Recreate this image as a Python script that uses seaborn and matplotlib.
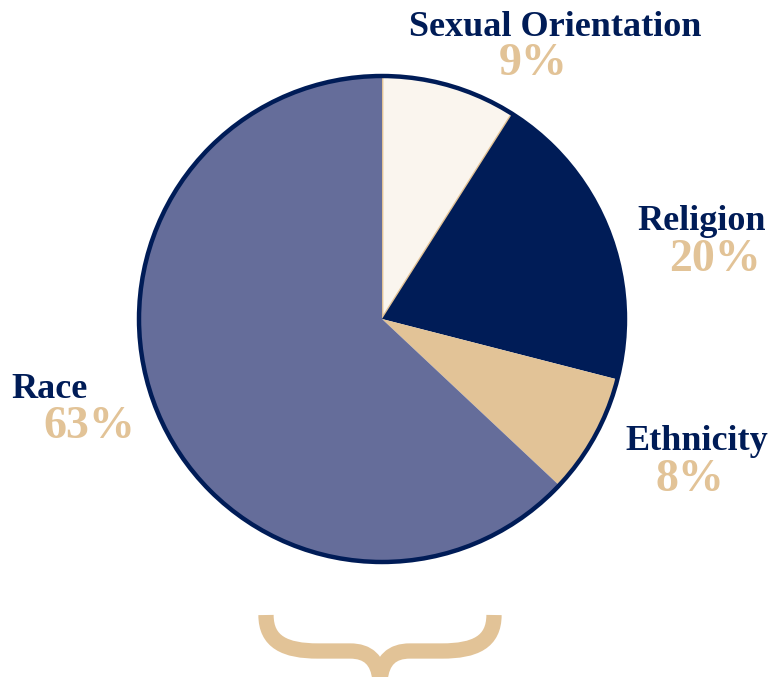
import matplotlib
matplotlib.use("Agg")
import matplotlib.pyplot as plt
import seaborn as sns
from matplotlib.patches import Circle, PathPatch
from matplotlib.path import Path

categories = ["Sexual Orientation", "Religion", "Ethnicity", "Race"]
values = [9, 20, 8, 63]
pct_labels = ["9%", "20%", "8%", "63%"]
colors = ["#FAF5EE", "#001C57", "#E2C397", "#656D9A"]

NAVY = "#001C57"
TAN = "#E2C397"

sns.set_theme(style="white")
plt.rcParams["font.family"] = ["Liberation Serif", "DejaVu Serif"]

W, H = 771, 677
fig = plt.figure(figsize=(W / 100, H / 100), dpi=100)
ax = fig.add_axes([0, 0, 1, 1])
ax.set_xlim(0, W)
ax.set_ylim(0, H)
ax.set_aspect("equal")
ax.axis("off")

cx, cy, r = 382, H - 319, 243
wedges, _ = ax.pie(values, colors=colors, startangle=90, counterclock=False,
                   center=(cx, cy), radius=r, frame=True)
ax.set_xlim(0, W)
ax.set_ylim(0, H)
ax.axis("off")
wedges[0].set_edgecolor(TAN)
wedges[0].set_linewidth(2.0)
for w in wedges[1:]:
    w.set_edgecolor("none")
ax.add_patch(Circle((cx, cy), r, fill=False, edgecolor=NAVY, linewidth=3.2, zorder=5))

# labels (pixel positions, y from top)
label_pos = [(555, 27), (702, 222), (697, 442), (49, 390)]
pct_pos = [(533, 64), (715, 260), (690, 480), (89, 427)]
for name, pct, (lx, ly), (px, py) in zip(categories, pct_labels, label_pos, pct_pos):
    ax.text(lx, H - ly, name, ha="center", va="center", fontsize=26,
            fontweight="bold", color=NAVY)
    ax.text(px, H - py, pct, ha="center", va="center", fontsize=33,
            color=TAN, fontweight="bold")

# decorative brace at the bottom
def P(x, y):
    return (x, H - y)

verts = [P(266, 615), P(266, 642), P(285, 651), P(318, 651),
         P(350, 651), P(350, 651), P(350, 651),
         P(368, 651), P(378, 660), P(380, 680)]
codes = [Path.MOVETO, Path.CURVE4, Path.CURVE4, Path.CURVE4,
         Path.LINETO, Path.LINETO, Path.LINETO,
         Path.CURVE4, Path.CURVE4, Path.CURVE4]
verts2 = [(2 * 380 - x, y) for x, y in verts]
for v in (verts, verts2):
    ax.add_patch(PathPatch(Path(v, codes), facecolor="none", edgecolor=TAN,
                           linewidth=11, capstyle="butt", joinstyle="round"))

fig.savefig("out.png", dpi=100, facecolor="white")
